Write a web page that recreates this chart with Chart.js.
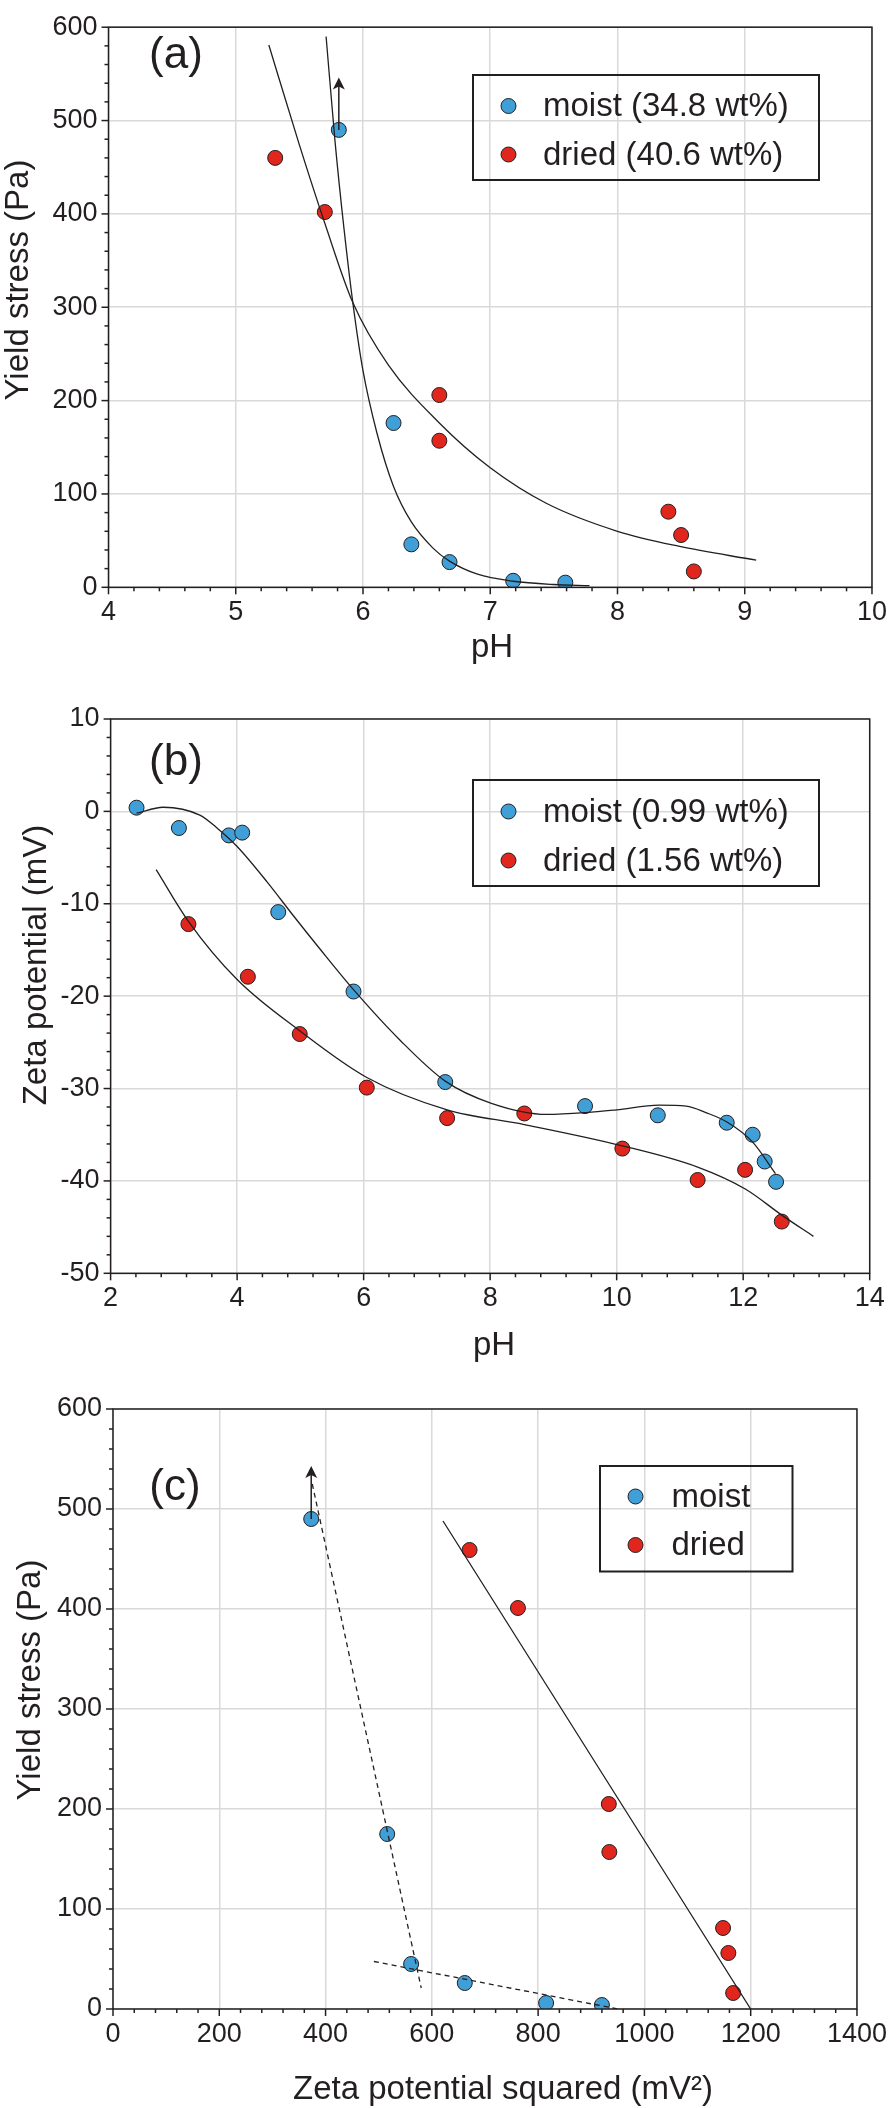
<!DOCTYPE html>
<html>
<head>
<meta charset="utf-8">
<script src="https://cdn.jsdelivr.net/npm/chart.js@4.4.1/dist/chart.umd.min.js"></script>
<style>
  html, body { margin: 0; padding: 0; background: #fff; }
  .box { position: absolute; left: 0; width: 896px; }
</style>
</head>
<body>
<div class="box" style="top:0;height:680px"><canvas id="chartA"></canvas></div>
<div class="box" style="top:680px;height:690px"><canvas id="chartB"></canvas></div>
<div class="box" style="top:1370px;height:738px"><canvas id="chartC"></canvas></div>
<script>
// (a) yield stress vs pH
const moistPH_a = [5.81, 6.24, 6.38, 6.68, 7.18, 7.59];
const moistYield_a = [490, 176, 46, 27, 7, 5];
const driedPH_a = [5.31, 5.70, 6.60, 6.60, 8.40, 8.50, 8.60];
const driedYield_a = [460, 402, 206, 157, 81, 56, 17];
// fitted curves
const moistFitPH_a = [5.71, 5.78, 5.85, 5.92, 6.0, 6.11, 6.24, 6.38, 6.55, 6.68, 6.9, 7.18, 7.5, 7.78];
const moistFitY_a = [590, 478, 385, 305, 232, 165, 108, 70, 42, 28, 14, 6.5, 3, 1.8];
const driedFitPH_a = [5.26, 5.5, 5.7, 5.92, 6.2, 6.6, 7.0, 7.44, 8.0, 8.48, 9.09];
const driedFitY_a = [581, 474, 390, 305, 238, 176, 128, 90, 60, 44, 29];

// (b) zeta potential vs pH
const moistPH_b = [2.41, 3.08, 3.87, 4.08, 4.65, 5.84, 7.29, 9.50, 10.65, 11.74, 12.15, 12.34, 12.52];
const moistZeta_b = [0.4, -1.8, -2.6, -2.3, -10.9, -19.5, -29.3, -31.9, -32.9, -33.7, -35.0, -37.9, -40.1];
const driedPH_b = [3.23, 4.17, 4.99, 6.05, 7.32, 8.54, 10.09, 11.28, 12.03, 12.61];
const driedZeta_b = [-12.2, -17.9, -24.1, -29.9, -33.2, -32.7, -36.5, -39.9, -38.8, -44.4];
const moistFitPH_b = [2.41, 2.83, 3.41, 3.7, 4.0, 4.47, 4.89, 5.31, 5.84, 6.58, 7.29, 8.02, 8.9, 9.52, 10.0, 10.67, 11.1, 11.41, 11.75, 12.15, 12.51];
const moistFitZ_b = [-0.2, 0.45, -0.4, -1.9, -3.8, -7.6, -11.3, -14.9, -19.3, -24.8, -29.2, -31.6, -32.8, -32.6, -32.3, -31.8, -31.9, -32.6, -33.65, -35.8, -39.2];
const driedFitPH_b = [2.72, 3.23, 4.0, 5.0, 6.05, 7.32, 8.54, 10.09, 11.28, 12.04, 12.61, 13.11];
const driedFitZ_b = [-6.3, -11.9, -18.2, -23.8, -28.8, -32.3, -33.9, -36.2, -38.5, -40.9, -43.7, -46.0];

// (c) yield stress vs zeta potential squared
const moistZ2_c = [373, 516, 561, 662, 815, 920];
const moistYield_c = [490, 175, 45, 26, 6, 4];
const driedZ2_c = [671, 762, 933, 934, 1148, 1158, 1167];
const driedYield_c = [459, 401, 205, 157, 81, 56, 16];
const driedLineZ2_c = [621, 1200];
const driedLineY_c = [488, 0];
const moistLine1Z2_c = [375, 580];
const moistLine1Y_c = [525, 21];
const moistLine2Z2_c = [491, 950];
const moistLine2Y_c = [47.5, 0];

const INK = '#231f20';
const BLUE = '#3f9fd6';
const RED = '#e1261e';
const GRID = '#d9d9d9';
const FONT = "'Liberation Sans', Arial, sans-serif";

Chart.defaults.font.family = FONT;
Chart.defaults.color = INK;
Chart.defaults.animation = false;

function zip(xs, ys) {
  return xs.map((x, i) => ({ x: x, y: ys[i] }));
}

function dots(label, xs, ys, color) {
  return {
    type: 'scatter', label: label, data: zip(xs, ys),
    backgroundColor: color, borderColor: INK, borderWidth: 1,
    pointRadius: 7.5, pointHoverRadius: 7.5
  };
}

function curve(xs, ys, dash) {
  return {
    type: 'line', data: zip(xs, ys), borderColor: INK, borderWidth: 1.3,
    borderDash: dash || [], pointRadius: 0, tension: 0.4,
    cubicInterpolationMode: 'monotone', fill: false
  };
}

// frame, minor ticks, arrow, panel letter, legend box, axis titles
const decor = {
  id: 'decor',
  afterDraw(chart, args, o) {
    const { ctx, chartArea: a, scales: { x, y } } = chart;
    ctx.save();
    ctx.strokeStyle = INK;
    ctx.fillStyle = INK;
    ctx.lineWidth = 1.5;
    ctx.strokeRect(a.left, a.top, a.right - a.left, a.bottom - a.top);

    const nx = Math.round((x.max - x.min) / o.xMinor);
    for (let i = 0; i <= nx; i++) {
      const v = x.min + i * o.xMinor;
      const major = Math.abs(v / o.xMajor - Math.round(v / o.xMajor)) < 1e-6;
      const px = x.getPixelForValue(v);
      ctx.beginPath();
      ctx.moveTo(px, a.bottom);
      ctx.lineTo(px, a.bottom + (major ? 7 : 4));
      ctx.stroke();
    }
    const ny = Math.round((y.max - y.min) / o.yMinor);
    for (let i = 0; i <= ny; i++) {
      const v = y.min + i * o.yMinor;
      const major = Math.abs(v / o.yMajor - Math.round(v / o.yMajor)) < 1e-6;
      const py = y.getPixelForValue(v);
      ctx.beginPath();
      ctx.moveTo(a.left - (major ? 7 : 4), py);
      ctx.lineTo(a.left, py);
      ctx.stroke();
    }

    if (o.arrow) {
      const ax = x.getPixelForValue(o.arrow.x);
      const y0 = y.getPixelForValue(o.arrow.from);
      const y1 = y.getPixelForValue(o.arrow.to);
      ctx.lineWidth = 1.5;
      ctx.beginPath();
      ctx.moveTo(ax, y0);
      ctx.lineTo(ax, y1 + 8);
      ctx.stroke();
      ctx.beginPath();
      ctx.moveTo(ax, y1);
      ctx.lineTo(ax - 6, y1 + 12);
      ctx.lineTo(ax, y1 + 9);
      ctx.lineTo(ax + 6, y1 + 12);
      ctx.closePath();
      ctx.fill();
    }

    ctx.textAlign = 'center';
    ctx.textBaseline = 'middle';
    ctx.font = '44px ' + FONT;
    ctx.fillText(o.panel, o.panelAt[0], o.panelAt[1]);

    const L = o.legend;
    ctx.lineWidth = 2;
    ctx.strokeRect(L.left, L.top, L.width, L.height);
    ctx.font = '33px ' + FONT;
    ctx.textAlign = 'left';
    L.rows.forEach((r, i) => {
      const cy = L.rowY[i];
      ctx.beginPath();
      ctx.arc(L.markX, cy, 7.5, 0, Math.PI * 2);
      ctx.fillStyle = r.color;
      ctx.fill();
      ctx.lineWidth = 1;
      ctx.strokeStyle = INK;
      ctx.stroke();
      ctx.fillStyle = INK;
      ctx.fillText(r.text, L.textX, cy + 1);
    });

    ctx.font = '33px ' + FONT;
    ctx.textAlign = 'center';
    ctx.fillText(o.xTitle.text, o.xTitle.at[0], o.xTitle.at[1]);
    ctx.save();
    ctx.translate(o.yTitle.at[0], o.yTitle.at[1]);
    ctx.rotate(-Math.PI / 2);
    ctx.fillText(o.yTitle.text, 0, 0);
    ctx.restore();
    ctx.restore();
  }
};

function build(id, datasets, sc, deco) {
  const H = sc.height;
  return new Chart(document.getElementById(id), {
    data: { datasets: datasets },
    plugins: [decor],
    options: {
      responsive: true,
      maintainAspectRatio: false,
      layout: { padding: { top: sc.top, right: 896 - sc.right, left: 0, bottom: 0 } },
      plugins: { legend: { display: false }, tooltip: { enabled: false }, decor: deco },
      scales: {
        x: {
          type: 'linear', min: sc.xMin, max: sc.xMax,
          afterFit: s => { s.height = H - sc.bottom; },
          ticks: { stepSize: sc.xStep, padding: 9, font: { size: 27 }, color: INK,
                   callback: v => String(v) },
          grid: { color: GRID, lineWidth: 1.5, drawTicks: false },
          border: { display: false }
        },
        y: {
          type: 'linear', min: sc.yMin, max: sc.yMax,
          afterFit: s => { s.width = sc.left; },
          ticks: { stepSize: sc.yStep, padding: 11, font: { size: 27 }, color: INK,
                   callback: v => String(v) },
          grid: { color: GRID, lineWidth: 1.5, drawTicks: false },
          border: { display: false }
        }
      }
    }
  });
}

// (a)
build('chartA', [
  curve(moistFitPH_a, moistFitY_a),
  curve(driedFitPH_a, driedFitY_a),
  dots('moist (34.8 wt%)', moistPH_a, moistYield_a, BLUE),
  dots('dried (40.6 wt%)', driedPH_a, driedYield_a, RED)
], { height: 680, top: 15.5, bottom: 587.3, left: 108.5, right: 872,
     xMin: 4, xMax: 10, xStep: 1, yMin: 0, yMax: 600, yStep: 100 },
{
  xMajor: 1, xMinor: 0.2, yMajor: 100, yMinor: 20,
  arrow: { x: moistPH_a[0], from: moistYield_a[0], to: 546 },
  panel: '(a)', panelAt: [176, 56],
  legend: { left: 473, top: 75, width: 346, height: 105, markX: 508.5, textX: 543,
            rowY: [106, 154.5],
            rows: [{ color: BLUE, text: 'moist (34.8 wt%)' }, { color: RED, text: 'dried (40.6 wt%)' }] },
  xTitle: { text: 'pH', at: [492, 648] },
  yTitle: { text: 'Yield stress (Pa)', at: [19, 280] }
});

// (b)
build('chartB', [
  curve(moistFitPH_b, moistFitZ_b),
  curve(driedFitPH_b, driedFitZ_b),
  dots('moist (0.99 wt%)', moistPH_b, moistZeta_b, BLUE),
  dots('dried (1.56 wt%)', driedPH_b, driedZeta_b, RED)
], { height: 690, top: 39, bottom: 593.3, left: 110.6, right: 869.7,
     xMin: 2, xMax: 14, xStep: 2, yMin: -50, yMax: 10, yStep: 10 },
{
  xMajor: 2, xMinor: 0.4, yMajor: 10, yMinor: 2,
  panel: '(b)', panelAt: [176, 83],
  legend: { left: 473, top: 100, width: 346, height: 106, markX: 508.5, textX: 543,
            rowY: [131.5, 180.5],
            rows: [{ color: BLUE, text: 'moist (0.99 wt%)' }, { color: RED, text: 'dried (1.56 wt%)' }] },
  xTitle: { text: 'pH', at: [494, 666] },
  yTitle: { text: 'Zeta potential (mV)', at: [37, 285] }
});

// (c)
build('chartC', [
  curve(driedLineZ2_c, driedLineY_c),
  curve(moistLine1Z2_c, moistLine1Y_c, [5, 4]),
  curve(moistLine2Z2_c, moistLine2Y_c, [5, 4]),
  dots('moist', moistZ2_c, moistYield_c, BLUE),
  dots('dried', driedZ2_c, driedYield_c, RED)
], { height: 738, top: 39, bottom: 639, left: 113, right: 859.5,
     xMin: 0, xMax: 1400, xStep: 200, yMin: 0, yMax: 600, yStep: 100 },
{
  xMajor: 200, xMinor: 40, yMajor: 100, yMinor: 20,
  arrow: { x: moistZ2_c[0], from: moistYield_c[0], to: 543 },
  panel: '(c)', panelAt: [175, 118],
  legend: { left: 600, top: 96, width: 192.5, height: 105.5, markX: 635.5, textX: 671.5,
            rowY: [126.5, 175],
            rows: [{ color: BLUE, text: 'moist' }, { color: RED, text: 'dried' }] },
  xTitle: { text: 'Zeta potential squared (mV\u00b2)', at: [503, 720] },
  yTitle: { text: 'Yield stress (Pa)', at: [31, 310] }
});
</script>
</body>
</html>
